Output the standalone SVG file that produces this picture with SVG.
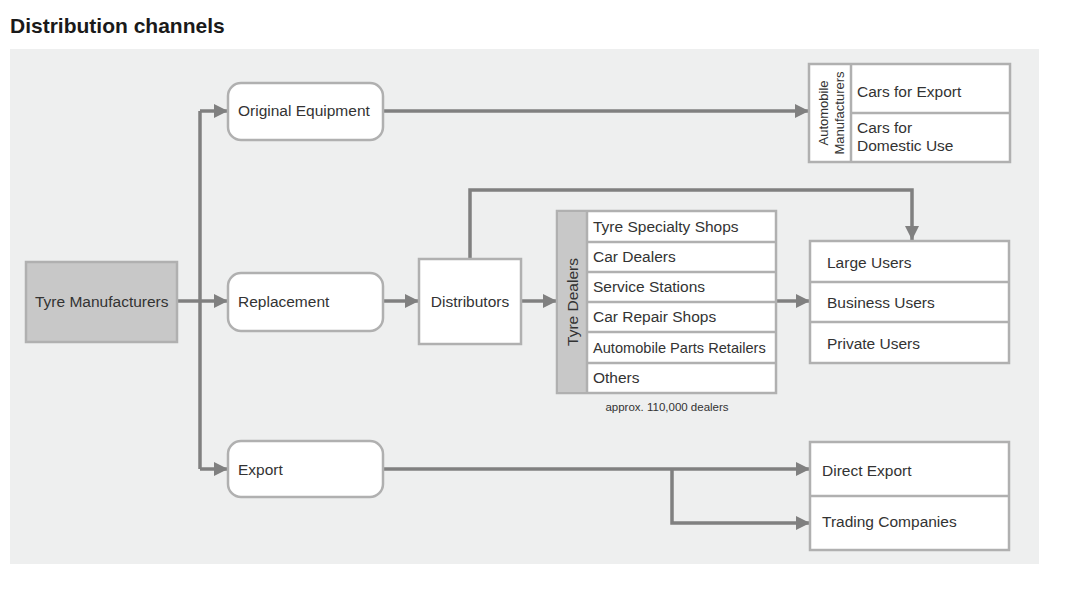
<svg xmlns="http://www.w3.org/2000/svg" width="1075" height="589" viewBox="0 0 1075 589">
<defs>
<style>
text{font-family:"Liberation Sans",Arial,sans-serif;fill:#333;font-size:15.5px}
.title{font-weight:bold;font-size:21px;fill:#1a1a1a}
.box{fill:#fff;stroke:#b0b0b0;stroke-width:2.5}
.gray{fill:#c8c8c8;stroke:#b0b0b0;stroke-width:2.5}
.div{stroke:#b0b0b0;stroke-width:2.5;fill:none}
.conn{stroke:#808080;stroke-width:3.5;fill:none}
.small{font-size:11.5px}
.rot{font-size:13px}
</style>
<marker id="ah" viewBox="0 0 10 10" refX="10" refY="5" markerWidth="4" markerHeight="4" markerUnits="strokeWidth" orient="auto">
<path d="M0,0 L10,5 L0,10 z" fill="#808080"/>
</marker>
</defs>
<rect width="1075" height="589" fill="#fff"/>
<text class="title" x="10" y="33">Distribution channels</text>
<rect x="10" y="49" width="1029" height="515" fill="#eeefef"/>

<g id="connectors">
<path class="conn" d="M200,111 V469"/>
<path class="conn" d="M200,111 H228" marker-end="url(#ah)"/>
<path class="conn" d="M177,301 H228" marker-end="url(#ah)"/>
<path class="conn" d="M200,469 H228" marker-end="url(#ah)"/>
<path class="conn" d="M383,111 H809" marker-end="url(#ah)"/>
<path class="conn" d="M383,301 H419" marker-end="url(#ah)"/>
<path class="conn" d="M521,301 H557" marker-end="url(#ah)"/>
<path class="conn" d="M470,259 V190 H912 V240" marker-end="url(#ah)"/>
<path class="conn" d="M777,301 H810" marker-end="url(#ah)"/>
<path class="conn" d="M383,469 H810" marker-end="url(#ah)"/>
<path class="conn" d="M672,469 V523 H810" marker-end="url(#ah)"/>
</g>

<g id="tyre-manufacturers">
<rect class="gray" x="26" y="262" width="151" height="80"/>
<text x="35" y="307">Tyre Manufacturers</text>
</g>

<g id="original-equipment">
<rect class="box" x="228" y="83" width="155" height="57" rx="13"/>
<text x="238" y="116">Original Equipment</text>
</g>

<g id="replacement">
<rect class="box" x="228" y="273" width="155" height="58" rx="13"/>
<text x="238" y="307">Replacement</text>
</g>

<g id="export">
<rect class="box" x="228" y="441" width="155" height="56" rx="13"/>
<text x="238" y="475">Export</text>
</g>

<g id="distributors">
<rect class="box" x="419" y="259" width="102" height="85"/>
<text x="470" y="307" text-anchor="middle">Distributors</text>
</g>

<g id="tyre-dealers">
<rect class="box" x="557" y="211" width="219" height="182"/>
<rect x="558" y="212" width="29" height="180" fill="#c8c8c8"/>
<path class="div" d="M587,211 V393 M587,242 H776 M587,272 H776 M587,302 H776 M587,332 H776 M587,363 H776"/>
<text transform="translate(578,302) rotate(-90)" text-anchor="middle">Tyre Dealers</text>
<text x="593" y="232">Tyre Specialty Shops</text>
<text x="593" y="262">Car Dealers</text>
<text x="593" y="292">Service Stations</text>
<text x="593" y="322">Car Repair Shops</text>
<text x="593" y="353" style="font-size:14.6px">Automobile Parts Retailers</text>
<text x="593" y="383">Others</text>
<text class="small" x="667" y="411" text-anchor="middle">approx. 110,000 dealers</text>
</g>

<g id="automobile-manufacturers">
<rect class="box" x="809" y="64" width="201" height="98"/>
<path class="div" d="M851,64 V162 M851,113 H1010"/>
<text class="rot" transform="translate(828,113) rotate(-90)" text-anchor="middle">Automobile</text>
<text class="rot" transform="translate(844,113) rotate(-90)" text-anchor="middle">Manufacturers</text>
<text x="857" y="97">Cars for Export</text>
<text x="857" y="133">Cars for</text>
<text x="857" y="151">Domestic Use</text>
</g>

<g id="users">
<rect class="box" x="810" y="241" width="199" height="122"/>
<path class="div" d="M810,282 H1009 M810,322 H1009"/>
<text x="827" y="268">Large Users</text>
<text x="827" y="308">Business Users</text>
<text x="827" y="349">Private Users</text>
</g>

<g id="export-targets">
<rect class="box" x="810" y="442" width="199" height="108"/>
<path class="div" d="M810,496 H1009"/>
<text x="822" y="476">Direct Export</text>
<text x="822" y="527">Trading Companies</text>
</g>
</svg>
